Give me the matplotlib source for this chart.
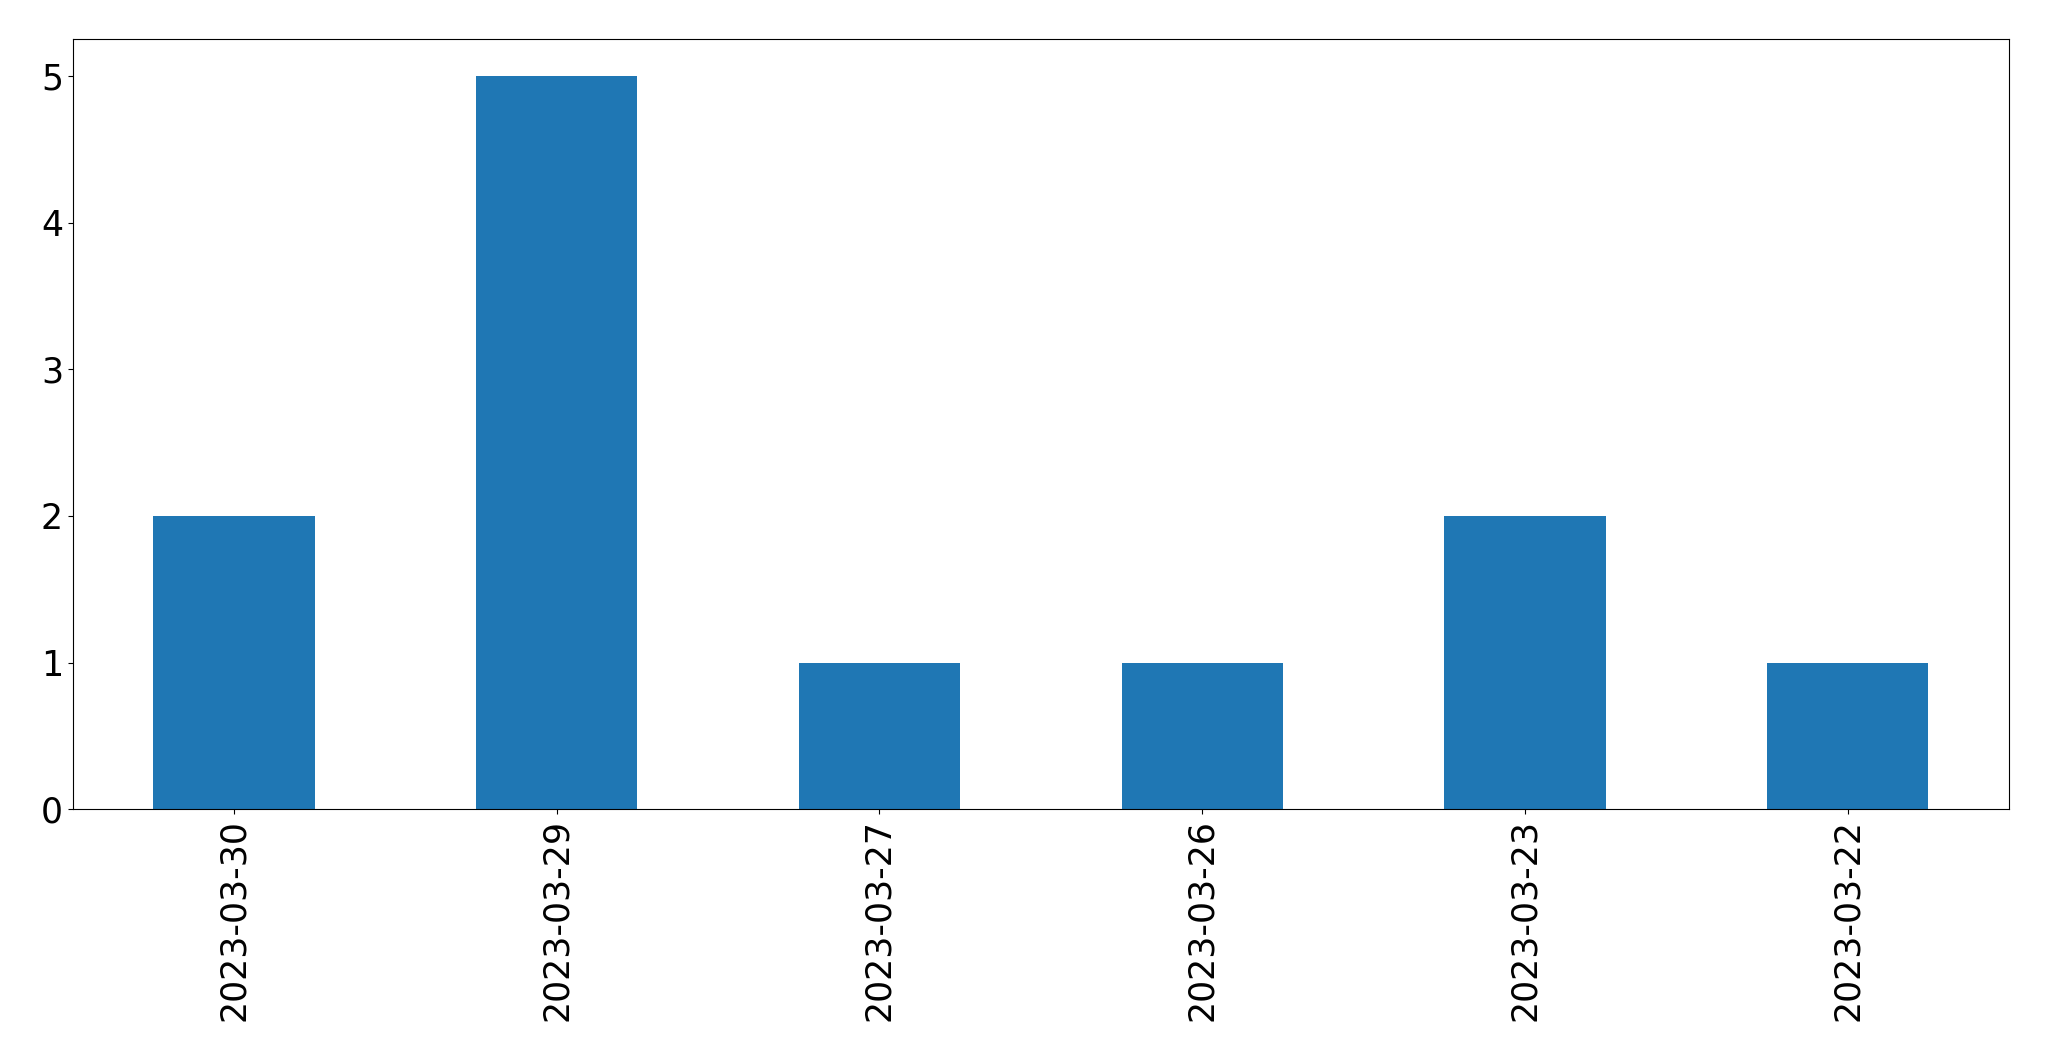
import matplotlib
matplotlib.use("Agg")
import matplotlib.pyplot as plt

# Data
dates = ["2023-03-30", "2023-03-29", "2023-03-27", "2023-03-26", "2023-03-23", "2023-03-22"]
counts = [2, 5, 1, 1, 2, 1]

W, H = 2049, 1061
fig = plt.figure(figsize=(W / 100, H / 100), dpi=100)
ax = fig.add_axes([72.7 / W, 1 - 809.3 / H, (2009 - 72.7) / W, (809.3 - 39.3) / H])

x = list(range(len(dates)))
ax.bar(x, counts, width=0.5, color="#1f77b4")
ax.set_xlim(-0.5, len(dates) - 0.5)
ax.set_ylim(0, 5.25)
ax.set_xticks(x)
ax.set_xticklabels(dates, rotation=90)
ax.tick_params(axis="both", labelsize=25)

fig.savefig("out.png", dpi=100)
